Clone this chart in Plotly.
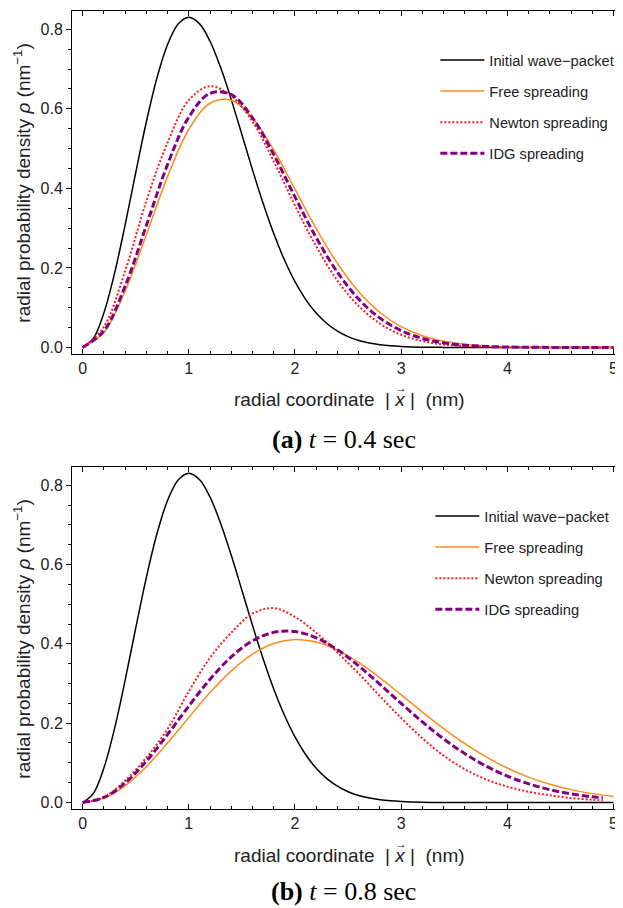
import plotly.graph_objects as go

# radial coordinate samples (nm)
x_fine = [0.0, 0.1, 0.2, 0.3, 0.4, 0.5, 0.6, 0.7, 0.8, 0.9, 1.0, 1.1, 1.2, 1.3,
          1.4, 1.5, 1.6, 1.7, 1.8, 1.9, 2.0, 2.1, 2.2, 2.3, 2.4, 2.5, 2.6, 2.7,
          2.8, 2.9, 3.0, 3.2, 3.4, 3.6, 3.8, 4.0, 4.5, 5.0]
x_a = [0.0, 0.2, 0.4, 0.6, 0.8, 1.0, 1.2, 1.4, 1.6, 1.8, 2.0, 2.2, 2.4,
       2.6, 2.8, 3.0, 3.2, 3.4, 3.6, 3.8, 4.0, 4.2, 4.4, 4.6, 4.8, 5.0]
x_b = list(x_a)
x_b_short = [0.0, 0.2, 0.4, 0.6, 0.8, 1.0, 1.2, 1.4, 1.6, 1.8, 2.0, 2.2, 2.4,
             2.6, 2.8, 3.0, 3.2, 3.4, 3.6, 3.8, 4.0, 4.2, 4.4, 4.6, 4.8, 4.9]

# initial wave-packet (same in both panels), on x_fine
initial_rho = [0, 0.0223, 0.0867, 0.1856, 0.3077, 0.4394, 0.5669, 0.6775, 0.7616,
               0.8133, 0.8302, 0.8143, 0.7700, 0.7037, 0.6232, 0.5353, 0.4466,
               0.3625, 0.2863, 0.2204, 0.1653, 0.1210, 0.0864, 0.0602, 0.0410,
               0.0272, 0.0177, 0.0112, 0.0070, 0.0042, 0.0025, 0.0008, 0.0002,
               0.0001, 0, 0, 0, 0]

# (a) t = 0.4 sec
free_a = [0, 0.0378, 0.1414, 0.2835, 0.4296, 0.5480, 0.6140, 0.6215, 0.5770,
          0.4965, 0.3980, 0.2990, 0.2110, 0.1402, 0.0880, 0.0522, 0.0294,
          0.0157, 0.0080, 0.0038, 0.0017, 0.0007, 0.0003, 0.0001, 0, 0]
newton_a = [0, 0.052, 0.192, 0.368, 0.515, 0.622, 0.657, 0.632, 0.568, 0.468,
            0.357, 0.254, 0.168, 0.104, 0.060, 0.032, 0.016, 0.0075, 0.0032,
            0.0013, 0.0005, 0.0002, 0.0001, 0, 0, 0]
idg_a = [0, 0.0415, 0.1540, 0.3065, 0.4600, 0.5790, 0.6390, 0.6355, 0.5775,
         0.4850, 0.3785, 0.2762, 0.1890, 0.1215, 0.0738, 0.0422, 0.0228,
         0.0117, 0.0056, 0.0026, 0.0011, 0.0004, 0.0002, 0.0001, 0, 0]

# (b) t = 0.8 sec
free_b = [0, 0.0109, 0.0421, 0.0902, 0.1498, 0.2143, 0.2771, 0.3320, 0.3743,
          0.4010, 0.4110, 0.4047, 0.3843, 0.3532, 0.3143, 0.2715, 0.2280,
          0.1863, 0.1482, 0.1148, 0.0868, 0.0640, 0.0461, 0.0324, 0.0223, 0.0149]
newton_b = [0, 0.013, 0.055, 0.113, 0.185, 0.280, 0.365, 0.428, 0.476, 0.490,
            0.468, 0.428, 0.378, 0.325, 0.268, 0.213, 0.162, 0.118, 0.084,
            0.058, 0.040, 0.027, 0.018, 0.011, 0.007, 0.005]
idg_b = [0, 0.0126, 0.0489, 0.1041, 0.1715, 0.2431, 0.3107, 0.3672, 0.4076,
         0.4289, 0.4310, 0.4152, 0.3849, 0.3444, 0.2980, 0.2498, 0.2030,
         0.1602, 0.1229, 0.0916, 0.0665, 0.0470, 0.0323, 0.0217, 0.0142, 0.0114]

x_ticks = [0, 1, 2, 3, 4, 5]
y_ticks = [0.0, 0.2, 0.4, 0.6, 0.8]
y_ticktext = ["0.0", "0.2", "0.4", "0.6", "0.8"]

names = ["Initial wave\u2212packet", "Free spreading", "Newton spreading", "IDG spreading"]
styles = [
    dict(color="black", width=1.5),
    dict(color="#FF8A1E", width=1.5),
    dict(color="#FF1A1A", width=2, dash="2px,2px"),
    dict(color="#800080", width=3, dash="7px,3px"),
]

FONT = "Liberation Sans"

fig = go.Figure()

panels = [
    ("x", "y", "legend", [x_fine, x_a, x_a, x_a], [initial_rho, free_a, newton_a, idg_a]),
    ("x2", "y2", "legend2", [x_fine, x_b, x_b_short, x_b_short], [initial_rho, free_b, newton_b, idg_b]),
]

for xref, yref, leg, xs, ys in panels:
    for i in range(4):
        fig.add_trace(
            go.Scatter(
                x=xs[i], y=ys[i], mode="lines", name=names[i],
                line=dict(shape="spline", smoothing=1, **styles[i]),
                xaxis=xref, yaxis=yref, legend=leg, legendgroup=leg + str(i),
            )
        )


def x_axis(anchor):
    return dict(
        anchor=anchor, domain=[0, 1], range=[-0.1, 5.08],
        tickvals=x_ticks, ticks="inside", ticklen=5, tickcolor="black",
        showline=True, linecolor="black", linewidth=1, mirror="ticks",
        showgrid=False, zeroline=False,
        minor=dict(dtick=0.2, ticks="inside", ticklen=3, tickcolor="black"),
        tickfont=dict(family=FONT, size=16, color="#222"),
    )


def y_axis(anchor, domain):
    return dict(
        anchor=anchor, domain=domain, range=[-0.017, 0.846],
        tickvals=y_ticks, ticktext=y_ticktext, ticks="outside", ticklen=5,
        tickcolor="black", showline=True, linecolor="black", linewidth=1,
        mirror=True, showgrid=False, zeroline=False,
        minor=dict(dtick=0.05, ticks="outside", ticklen=3, tickcolor="black"),
        tickfont=dict(family=FONT, size=16, color="#222"),
    )


# page body adds an 8px offset, so the figure is 8px smaller and positions are shifted
W, H = 615.0, 900.0
PL = 64.0
PW = W - PL


def px(xp):
    return (xp - PL) / PW


def py(yp):
    return 1 - yp / H


legend_style = dict(
    font=dict(family=FONT, size=14.7, color="#222"), bgcolor="rgba(0,0,0,0)",
    tracegroupgap=9, xanchor="left", yanchor="top", itemwidth=44,
)

fig.update_layout(
    width=W, height=H,
    margin=dict(l=PL, r=0, t=0, b=0),
    paper_bgcolor="white", plot_bgcolor="white",
    xaxis=x_axis("y"),
    yaxis=y_axis("x", [py(347), py(3)]),
    xaxis2=x_axis("y2"),
    yaxis2=y_axis("x2", [py(803), py(460)]),
    legend=dict(x=px(428), y=py(36), **legend_style),
    legend2=dict(x=px(423), y=py(493), **legend_style),
)

ytitle = "radial probability density <i>\u03c1</i> (nm<sup>\u22121</sup>)"
xtitle = "radial coordinate\u00a0\u00a0|\u00a0<i>x</i>\u00a0|\u00a0\u00a0(nm)"
captions = ["<b>(a)</b> <i>t</i> = 0.4 sec", "<b>(b)</b> <i>t</i> = 0.8 sec"]

for k, (ty, xy, cy) in enumerate([(175, 392, 432), (632, 849, 885)]):
    fig.add_annotation(
        text=ytitle, xref="paper", yref="paper", x=px(14), y=py(ty),
        textangle=-90, showarrow=False, xanchor="center", yanchor="middle",
        font=dict(family=FONT, size=19, color="#222"),
    )
    fig.add_annotation(
        text=xtitle, xref="paper", yref="paper", x=px(342), y=py(xy),
        showarrow=False, xanchor="center", yanchor="middle",
        font=dict(family=FONT, size=19, color="#222"),
    )
    # vector arrow over the x
    fig.add_annotation(
        text="\u2192", xref="paper", yref="paper", x=px(394), y=py(xy - 11),
        showarrow=False, xanchor="center", yanchor="middle",
        font=dict(family=FONT, size=12, color="#222"),
    )
    fig.add_annotation(
        text=captions[k], xref="paper", yref="paper", x=px(336), y=py(cy),
        showarrow=False, xanchor="center", yanchor="middle",
        font=dict(family="Liberation Serif", size=26, color="black"),
    )

fig.write_html("out.html")
